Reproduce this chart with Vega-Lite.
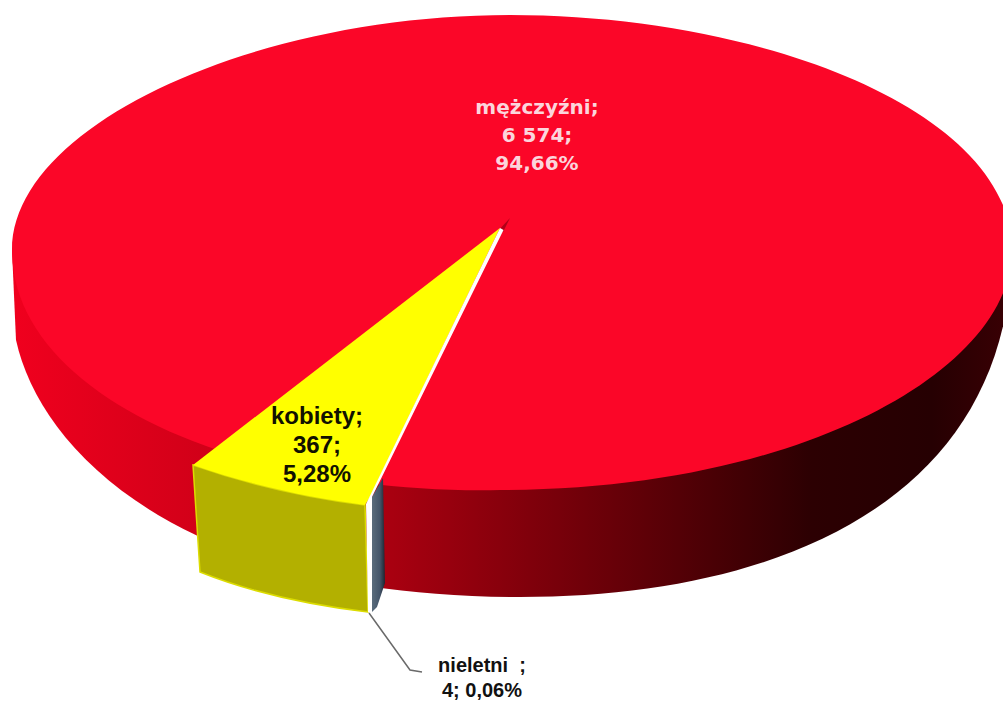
{"$schema":"https://vega.github.io/schema/vega-lite/v6.json","width":1003,"height":704,"padding":0,"autosize":{"type":"none"},"background":"#ffffff","config":{"view":{"stroke":null}},"data":{"values":[{"kategoria":"mężczyźni","liczba":6574,"procent":94.66,"etykieta":"mężczyźni;\n6 574;\n94,66%"},{"kategoria":"kobiety","liczba":367,"procent":5.28,"etykieta":"kobiety;\n367;\n5,28%"},{"kategoria":"nieletni","liczba":4,"procent":0.06,"etykieta":"nieletni \u00a0;\n4; 0,06%"}]},"layer":[
{"transform":[{"filter":"datum.kategoria==='mężczyźni'"}],"mark":{"type":"point","size":4,"filled":true,"opacity":1,"shape":"M-489.5,-102 L-485.5,-12 C-461.5,98 -321.5,245 18.5,245 C278.5,245 506.5,148 510.5,-102 Z","fill":{"gradient":"linear","x1":0,"y1":0,"x2":1,"y2":0,"stops":[{"offset":0,"color":"#f0001e"},{"offset":0.2,"color":"#d00018"},{"offset":0.38,"color":"#a80010"},{"offset":0.6,"color":"#680008"},{"offset":0.8,"color":"#2c0002"},{"offset":0.92,"color":"#260002"},{"offset":1,"color":"#3a0004"}]}},"encoding":{"detail":{"field":"kategoria"}}},
{"transform":[{"filter":"datum.kategoria==='mężczyźni'"}],"mark":{"type":"point","size":4,"filled":true,"opacity":1,"fill":"#fb0628","shape":"M8.5,-337 C258.5,-337 510.5,-242 510.5,-102 C510.5,18 298.5,138 -1.5,138 C-261.5,143 -489.5,43 -489.5,-102 C-489.5,-227 -246.5,-337 8.5,-337 Z"},"encoding":{"detail":{"field":"kategoria"}}},
{"transform":[{"filter":"datum.kategoria==='mężczyźni'"}],"mark":{"type":"point","size":4,"filled":true,"opacity":1,"fill":"#b00018","shape":"M8.5,-134 L-4.5,-120 L1.5,-120 Z"},"encoding":{"detail":{"field":"kategoria"}}},
{"transform":[{"filter":"datum.kategoria==='kobiety'"}],"mark":{"type":"point","size":4,"filled":true,"opacity":1,"fill":"#b3b000","stroke":"#dcdc00","strokeWidth":1.5,"shape":"M-308.5,113 C-251.5,133 -191.5,146 -136.5,153 L-133.5,260 C-191.5,253 -251.5,240 -301.5,220 Z"},"encoding":{"detail":{"field":"kategoria"}}},
{"transform":[{"filter":"datum.kategoria==='kobiety'"}],"mark":{"type":"point","size":4,"filled":true,"opacity":1,"fill":"#ffff00","shape":"M-1.5,-124 L-308.5,113 C-251.5,133 -191.5,146 -136.5,153 L-131.5,145 Z"},"encoding":{"detail":{"field":"kategoria"}}},
{"transform":[{"filter":"datum.kategoria==='nieletni'"}],"mark":{"type":"point","size":4,"filled":true,"opacity":1,"shape":"M-129.5,145 L-118.5,126 L-116.5,231 L-124.5,255 L-129.5,260 Z","fill":{"gradient":"linear","x1":0,"y1":0,"x2":1,"y2":0,"stops":[{"offset":0,"color":"#5a6c7c"},{"offset":0.6,"color":"#44566a"},{"offset":1,"color":"#1e2430"}]}},"encoding":{"detail":{"field":"kategoria"}}},
{"transform":[{"filter":"datum.kategoria==='nieletni'"}],"mark":{"type":"point","size":4,"filled":true,"opacity":1,"fill":"#ffffff","shape":"M-1.5,-124 L-135.5,152 L-133.5,260 L-129.5,260 L-129.5,145 L2,-122 Z"},"encoding":{"detail":{"field":"kategoria"}}},
{"transform":[{"filter":"datum.kategoria==='nieletni'"}],"mark":{"type":"point","size":4,"filled":false,"opacity":1,"stroke":"#6a6a6a","strokeWidth":1.5,"shape":"M-132.5,261 L-91.5,318 L-79.5,320"},"encoding":{"detail":{"field":"kategoria"}}},
{"transform":[{"filter":"datum.kategoria==='mężczyźni'"}],"mark":{"type":"text","lineBreak":"\n","lineHeight":28,"align":"center","baseline":"middle","dx":35.5,"dy":-244,"font":"DejaVu Sans","fontWeight":"bold","fontSize":20,"fill":"#fbd5dc"},"encoding":{"text":{"field":"etykieta"}}},
{"transform":[{"filter":"datum.kategoria==='kobiety'"}],"mark":{"type":"text","lineBreak":"\n","lineHeight":29,"align":"center","baseline":"middle","dx":-184.5,"dy":65,"font":"Liberation Sans","fontWeight":"bold","fontSize":24,"fill":"#111100"},"encoding":{"text":{"field":"etykieta"}}},
{"transform":[{"filter":"datum.kategoria==='nieletni'"}],"mark":{"type":"text","lineBreak":"\n","lineHeight":25,"align":"center","baseline":"middle","dx":-19.5,"dy":314,"font":"Liberation Sans","fontWeight":"bold","fontSize":20,"fill":"#111111"},"encoding":{"text":{"field":"etykieta"}}}
]}
